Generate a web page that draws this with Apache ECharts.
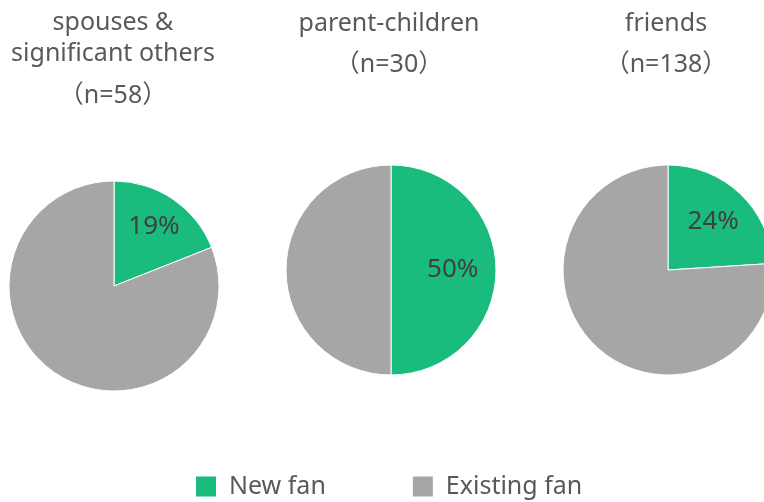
<!DOCTYPE html>
<html>
<head>
<meta charset="utf-8">
<script src="https://cdn.jsdelivr.net/npm/echarts@6/dist/echarts.min.js"></script>
<style>
html,body{margin:0;padding:0;background:#fff;}
#c{width:764px;height:502px;}
</style>
</head>
<body>
<div id="c"></div>
<script>
var categories = ['New fan', 'Existing fan'];
var groupTitles = [['spouses &', 'significant others', '（n=58）'], ['parent-children', '（n=30）'], ['friends', '（n=138）']];
var newFan = [19, 50, 24];
var existingFan = [81, 50, 76];

var colors = ['#1abc7e', '#a6a6a6'];
var centers = [[114, 286], [391, 270], [668, 270]];
var R = 105;
var labelInner = [0.3, 0.12, 0.2];
var titleBaselines = [[32, 63, 105], [33, 74], [33, 74]];
var titleX = [113, 389, 666];
var FONT = '"Noto Sans", "Liberation Sans", Arial, "Noto Sans CJK JP", sans-serif';

var series = [];
var graphics = [];
for (var i = 0; i < 3; i++) {
  var data = [
    {name: categories[0], value: newFan[i]},
    {name: categories[1], value: existingFan[i]}
  ];
  series.push({
    type: 'pie',
    center: centers[i],
    radius: [0, R],
    startAngle: 90,
    clockwise: true,
    silent: true,
    data: data,
    itemStyle: {borderColor: '#ffffff', borderWidth: 1},
    label: {show: false},
    labelLine: {show: false}
  });
  series.push({
    type: 'pie',
    center: centers[i],
    radius: [R * labelInner[i], R],
    startAngle: 90,
    clockwise: true,
    silent: true,
    data: [
      {name: categories[0], value: newFan[i], label: {show: true}},
      {name: categories[1], value: existingFan[i], label: {show: false}}
    ],
    itemStyle: {color: 'rgba(0,0,0,0)', borderWidth: 0},
    label: {
      show: true, position: 'inside',
      formatter: '{c}%',
      fontFamily: FONT,
      fontSize: 26, color: '#404040'
    },
    labelLine: {show: false}
  });
  for (var j = 0; j < groupTitles[i].length; j++) {
    graphics.push({
      type: 'text',
      x: titleX[i],
      y: titleBaselines[i][j] - 9,
      style: {
        text: groupTitles[i][j],
        align: 'center',
        verticalAlign: 'middle',
        fontFamily: FONT,
        fontSize: 25,
        fill: '#595959'
      }
    });
  }
}

var chart = echarts.init(document.getElementById('c'), null, {renderer: 'canvas'});
chart.setOption({
  animation: false,
  backgroundColor: '#ffffff',
  color: colors,
  legend: {
    data: categories,
    left: 194,
    top: 474,
    padding: 0,
    icon: 'rect',
    itemWidth: 22,
    itemHeight: 22,
    itemGap: 85,
    textStyle: {
      fontFamily: FONT,
      fontSize: 25,
      color: '#595959',
      padding: [0, 0, 0, 7]
    }
  },
  graphic: graphics,
  series: series
});
</script>
</body>
</html>
